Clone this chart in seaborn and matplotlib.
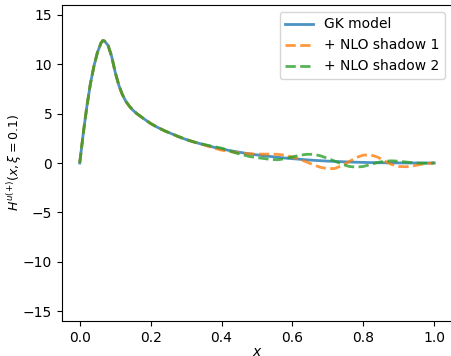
import numpy as np
import pandas as pd
import matplotlib
matplotlib.use("Agg")
import matplotlib.pyplot as plt
import seaborn as sns

x_vals = [0.0, 0.01, 0.02, 0.03, 0.04, 0.05, 0.06, 0.065, 0.07, 0.08, 0.09,
          0.10, 0.11, 0.12, 0.13, 0.14, 0.15, 0.16, 0.18, 0.20, 0.22, 0.24,
          0.26, 0.28, 0.30, 0.32, 0.34, 0.36, 0.38, 0.40, 0.42, 0.44, 0.46,
          0.48, 0.50, 0.52, 0.54, 0.56, 0.58, 0.60, 0.62, 0.64, 0.66, 0.68,
          0.70, 0.72, 0.74, 0.76, 0.78, 0.80, 0.82, 0.84, 0.86, 0.88, 0.90,
          0.92, 0.94, 0.96, 0.98, 1.00]

gk_model = [0.0, 3.0, 5.7, 8.0, 9.8, 11.2, 12.15, 12.4, 12.35, 11.9, 10.8,
            9.2, 7.9, 6.95, 6.25, 5.75, 5.35, 5.03, 4.5, 4.0, 3.6, 3.25,
            2.95, 2.65, 2.38, 2.15, 1.95, 1.76, 1.58, 1.42, 1.28, 1.15, 1.03,
            0.92, 0.82, 0.73, 0.65, 0.57, 0.50, 0.44, 0.38, 0.32, 0.27, 0.23,
            0.19, 0.16, 0.13, 0.10, 0.08, 0.06, 0.045, 0.03, 0.02, 0.015, 0.01,
            0.005, 0.003, 0.001, 0.0, 0.0]

nlo_shadow_1 = [0.0, 3.0, 5.7, 8.0, 9.8, 11.2, 12.15, 12.4, 12.35, 11.9, 10.8,
                9.2, 7.9, 6.95, 6.25, 5.75, 5.35, 5.03, 4.5, 4.0, 3.6, 3.25,
                2.95, 2.65, 2.38, 2.15, 1.95, 1.72, 1.5, 1.3, 1.17, 1.07, 0.99,
                0.93, 0.9, 0.9, 0.9, 0.87, 0.78, 0.6, 0.38, 0.1, -0.2, -0.45,
                -0.58, -0.55, -0.25, 0.15, 0.55, 0.8, 0.82, 0.6, 0.2, -0.15, -0.35,
                -0.38, -0.3, -0.15, -0.05, 0.0]

nlo_shadow_2 = [0.0, 3.0, 5.7, 8.0, 9.8, 11.2, 12.15, 12.4, 12.35, 11.9, 10.8,
                9.2, 7.9, 6.95, 6.25, 5.75, 5.35, 5.03, 4.5, 4.0, 3.6, 3.25,
                2.95, 2.65, 2.38, 2.15, 1.97, 1.8, 1.65, 1.5, 1.28, 1.02, 0.82,
                0.65, 0.55, 0.45, 0.35, 0.33, 0.45, 0.62, 0.78, 0.88, 0.88, 0.72,
                0.45, 0.18, -0.12, -0.35, -0.42, -0.35, -0.15, 0.05, 0.18, 0.22, 0.18,
                0.1, 0.03, -0.02, -0.02, 0.0]

series_labels = ["GK model", "+ NLO shadow 1", "+ NLO shadow 2"]

colors = ["#1f77b4", "#ff7f0e", "#2ca02c"]
styles = ["-", "--", "--"]

fig = plt.figure(figsize=(4.51, 3.56), dpi=100)
ax = fig.add_axes([62 / 451, 1 - 321 / 356, 390 / 451, 316 / 356])

for ys, lab, c, ls in zip([gk_model, nlo_shadow_1, nlo_shadow_2], series_labels, colors, styles):
    df = pd.DataFrame({"x": x_vals, "y": ys})
    sns.lineplot(data=df, x="x", y="y", ax=ax, color=c, linestyle=ls,
                 linewidth=2, alpha=0.8, label=lab, estimator=None, sort=False)

ax.set_ylim(-16, 16)
ax.set_xlim(-0.05, 1.05)
ax.set_yticks([-15, -10, -5, 0, 5, 10, 15])
ax.set_xticks([0.0, 0.2, 0.4, 0.6, 0.8, 1.0])
ax.set_xlabel("$x$", labelpad=0)
ax.set_ylabel(r"$H^{u(+)}(x,\xi=0.1)$", fontsize=9)
ax.yaxis.set_label_coords(-0.097, 0.5)
ax.legend(loc="upper right")

fig.savefig("out.png", dpi=100)
